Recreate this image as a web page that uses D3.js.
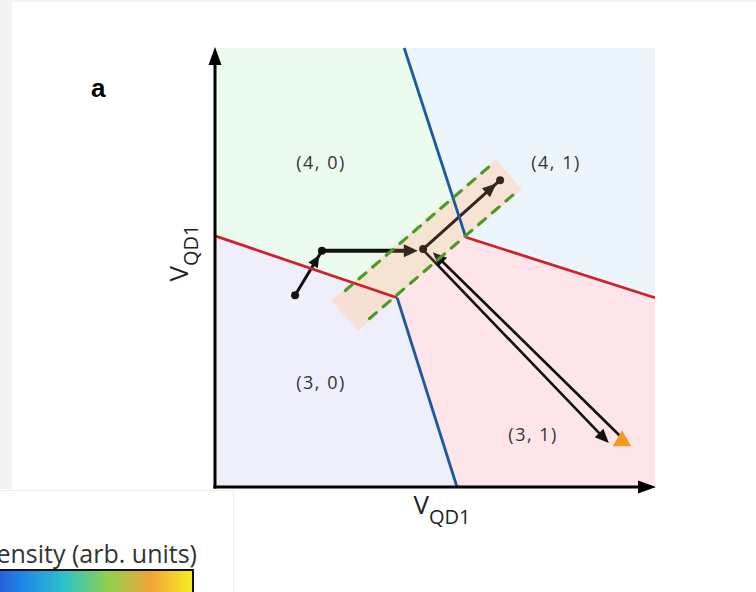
<!DOCTYPE html>
<html>
<head>
<meta charset="utf-8">
<script src="https://cdn.jsdelivr.net/npm/d3@7"></script>
<style>
  html, body { margin: 0; padding: 0; background: #f3f3f3; }
  svg { display: block; }
</style>
</head>
<body>
<div id="chart"></div>
<script>
// --- Data (gate-voltage units, 0..100 on both axes) ---
const redLeft = [[0, 57.2], [41.4, 43.1]];
const redRight = [[57.0, 56.9], [100, 43.1]];
const blueTop = [[43.0, 100], [57.0, 56.9]];
const blueBottom = [[41.4, 43.1], [55.0, 0]];

const regionNames = ["(4, 0)", "(4, 1)", "(3, 0)", "(3, 1)"];
const regionPolys = [
  [[0, 100], [43.0, 100], [57.0, 56.9], [41.4, 43.1], [0, 57.2]],
  [[43.0, 100], [100, 100], [100, 43.1], [57.0, 56.9]],
  [[0, 57.2], [41.4, 43.1], [55.0, 0], [0, 0]],
  [[41.4, 43.1], [57.0, 56.9], [100, 43.1], [100, 0], [55.0, 0]]
];
const labelPos = [[24.1, 73.8], [77.5, 73.8], [24.1, 23.7], [72.3, 11.8]];

// interdot band (centre line ends)
const bandEnds = [[29.4, 39.0], [66.7, 71.2]];

// pulse sequence
const pulseStart = [18.2, 43.7];
const pulseCorner = [24.3, 53.8];
const pulseHTip = [46.1, 53.8];
const pulseJunction = [47.3, 54.2];
const pulseUp = [64.8, 69.9];
const pulseOut = [[47.5, 53.8], [89.5, 10.0]];
const pulseBack = [[92.3, 11.4], [49.5, 53.5]];
const readout = [92.5, 10.5];

// --- Styles ---
const regionColors = ["#ebfbee", "#edf5fc", "#eeeffa", "#fde5ea"];

const W = 756, H = 592;
const svg = d3.select("#chart").append("svg")
  .attr("width", W).attr("height", H)
  .style("font-family", "'Open Sans', sans-serif");

// page panels
svg.append("rect").attr("x", 12).attr("y", 2).attr("width", W - 12).attr("height", 487).attr("fill", "#fff");
svg.append("rect").attr("x", 0).attr("y", 489).attr("width", W).attr("height", H - 489).attr("fill", "#fff");
svg.append("line").attr("x1", 0).attr("x2", 233).attr("y1", 490.5).attr("y2", 490.5).attr("stroke", "#eeeeee");
svg.append("line").attr("x1", 233.5).attr("x2", 233.5).attr("y1", 491).attr("y2", H).attr("stroke", "#eeeeee");

// --- Scales ---
const x = d3.scaleLinear().domain([0, 100]).range([215, 655]);
const y = d3.scaleLinear().domain([0, 100]).range([487, 48]);
const px = p => [x(p[0]), y(p[1])];

// --- Regions ---
svg.append("g").selectAll("path")
  .data(regionPolys)
  .join("path")
  .attr("d", d => "M" + d.map(px).join("L") + "Z")
  .attr("fill", (d, i) => regionColors[i]);

// labels
svg.append("g").selectAll("text")
  .data(regionNames)
  .join("text")
  .attr("x", (d, i) => x(labelPos[i][0]))
  .attr("y", (d, i) => y(labelPos[i][1]) + 6)
  .attr("text-anchor", "middle")
  .style("font-size", "18px")
  .style("letter-spacing", "1.5px")
  .style("fill", "#333")
  .text(d => d);

// --- Arrow helpers ---
function head(g, tip, from, color, L = 13, hw = 6) {
  const [tx, ty] = tip, [fx, fy] = from;
  const dx = tx - fx, dy = ty - fy, len = Math.hypot(dx, dy);
  const ux = dx / len, uy = dy / len;
  const bx = tx - ux * L, by = ty - uy * L;
  g.append("path")
    .attr("d", `M${tx},${ty}L${bx - uy * hw},${by + ux * hw}L${bx + uy * hw},${by - ux * hw}Z`)
    .attr("fill", color);
}
function seg(g, a, b, color, w) {
  g.append("line")
    .attr("x1", a[0]).attr("y1", a[1]).attr("x2", b[0]).attr("y2", b[1])
    .attr("stroke", color).attr("stroke-width", w).attr("stroke-linecap", "round");
}
function shorten(a, b, d) {
  const dx = b[0] - a[0], dy = b[1] - a[1], len = Math.hypot(dx, dy);
  return [b[0] - dx / len * d, b[1] - dy / len * d];
}

// band geometry in pixels
const b0 = px(bandEnds[0]), b1 = px(bandEnds[1]);
const bl = Math.hypot(b1[0] - b0[0], b1[1] - b0[1]);
const du = [(b1[0] - b0[0]) / bl, (b1[1] - b0[1]) / bl];
const nu = [-du[1], du[0]];
const halfW = 20;
const bandPath = "M" + [
  [b0[0] - nu[0] * halfW, b0[1] - nu[1] * halfW],
  [b1[0] - nu[0] * halfW, b1[1] - nu[1] * halfW],
  [b1[0] + nu[0] * halfW, b1[1] + nu[1] * halfW],
  [b0[0] + nu[0] * halfW, b0[1] + nu[1] * halfW]
].join("L") + "Z";

// band underlay
svg.append("path").attr("d", bandPath).attr("fill", "#fff1e4").attr("opacity", 0.7);

// --- Pulse arrows ---
const arr = svg.append("g");
const ink = "#111";
const ps = px(pulseStart), pc = px(pulseCorner), ph = px(pulseHTip), pj = px(pulseJunction), pu = px(pulseUp);

seg(arr, ps, pc, ink, 3);
head(arr, shorten(ps, pc, 5), ps, ink, 12, 5.5);
seg(arr, pc, shorten(pc, ph, 8), ink, 4);
head(arr, ph, pc, ink, 14, 6.5);

seg(arr, pj, shorten(pj, pu, 3), ink, 3);
head(arr, shorten(pj, pu, 5), pj, ink, 14, 6);

const o0 = px(pulseOut[0]), o1 = px(pulseOut[1]);
seg(arr, o0, shorten(o0, o1, 8), ink, 2.6);
head(arr, o1, o0, ink, 14, 6);
const r0 = px(pulseBack[0]), r1 = px(pulseBack[1]);
seg(arr, r0, shorten(r0, r1, 8), ink, 2.6);
head(arr, r1, r0, ink, 14, 6);

arr.selectAll("circle")
  .data([pulseStart, pulseCorner, pulseJunction, pulseUp])
  .join("circle")
  .attr("cx", d => x(d[0])).attr("cy", d => y(d[1]))
  .attr("r", 4).attr("fill", ink);

// band overlay (tints the arrows brown)
svg.append("path").attr("d", bandPath).attr("fill", "#e8946a").attr("opacity", 0.17);

// --- Boundaries ---
const lineGen = d3.line().x(d => x(d[0])).y(d => y(d[1]));
[redLeft, redRight].forEach(d => svg.append("path").attr("d", lineGen(d))
  .attr("stroke", "#d0202c").attr("stroke-width", 2.8).attr("fill", "none"));
[blueTop, blueBottom].forEach(d => svg.append("path").attr("d", lineGen(d))
  .attr("stroke", "#1d5a9c").attr("stroke-width", 2.8).attr("fill", "none"));

// dashed band edges
[-1, 1].forEach(s => {
  const off = 18.5 * s;
  const a = [b0[0] + du[0] * bl * 0.08 + nu[0] * off, b0[1] + du[1] * bl * 0.08 + nu[1] * off];
  const b = [b0[0] + du[0] * bl * 0.99 + nu[0] * off, b0[1] + du[1] * bl * 0.99 + nu[1] * off];
  svg.append("line")
    .attr("x1", a[0]).attr("y1", a[1]).attr("x2", b[0]).attr("y2", b[1])
    .attr("stroke", "#4f9a25").attr("stroke-width", 3.2)
    .attr("stroke-dasharray", "9,9").attr("stroke-linecap", "round");
});

// readout marker
const rd = px(readout);
svg.append("path")
  .attr("d", d3.symbol(d3.symbolTriangle, 150)())
  .attr("transform", `translate(${rd[0]},${rd[1]})`)
  .attr("fill", "#f39a1e");

// --- Axes ---
const axX = svg.append("g").attr("transform", `translate(0,${y(0)})`)
  .call(d3.axisBottom(x).ticks(0).tickSize(0).tickSizeOuter(0));
const axY = svg.append("g").attr("transform", `translate(${x(0)},0)`)
  .call(d3.axisLeft(y).ticks(0).tickSize(0).tickSizeOuter(0));
[axX, axY].forEach(a => a.select(".domain").attr("stroke", "#000").attr("stroke-width", 3));
axX.select(".domain").attr("d", `M${x(0) - 1.5},0H${x(100) - 12}`);
axY.select(".domain").attr("d", `M0,${y(0) + 1.5}V${y(100) + 14}`);
head(svg, [x(100) + 1, y(0)], [x(0), y(0)], "#000", 18, 6.5);
head(svg, [x(0), y(100) - 1], [x(0), y(0)], "#000", 18, 6.5);

// axis labels
const xl = svg.append("text").attr("x", 442).attr("y", 514).attr("text-anchor", "middle")
  .style("font-size", "26px").style("fill", "#222");
xl.append("tspan").text("V");
xl.append("tspan").attr("dy", 10).style("font-size", "20px").text("QD1");

const yl = svg.append("text").attr("transform", "translate(188,253) rotate(-90)").attr("text-anchor", "middle")
  .style("font-size", "26px").style("fill", "#222");
yl.append("tspan").text("V");
yl.append("tspan").attr("dy", 10).style("font-size", "20px").text("QD1");

// panel letter
svg.append("text").attr("x", 91).attr("y", 97)
  .style("font-family", "'Liberation Sans', Arial, sans-serif")
  .style("font-weight", "bold").style("font-size", "26px").text("a");

// --- Colour bar (clipped at the page edge, as in the source figure) ---
const grad = svg.append("defs").append("linearGradient").attr("id", "cbar");
const cbarStops = ["#2f3fcf", "#1f86e6", "#2fc3c9", "#8fd04e", "#f1a43a", "#f8ee22"];
cbarStops.forEach((c, i) => grad.append("stop").attr("offset", i / (cbarStops.length - 1)).attr("stop-color", c));
svg.append("text").attr("x", 197).attr("y", 563).attr("text-anchor", "end")
  .style("font-size", "25px").style("fill", "#333").text("Intensity (arb. units)");
svg.append("rect").attr("x", -20).attr("y", 570).attr("width", 213).attr("height", 40)
  .attr("fill", "url(#cbar)").attr("stroke", "#111").attr("stroke-width", 2);
</script>
</body>
</html>
